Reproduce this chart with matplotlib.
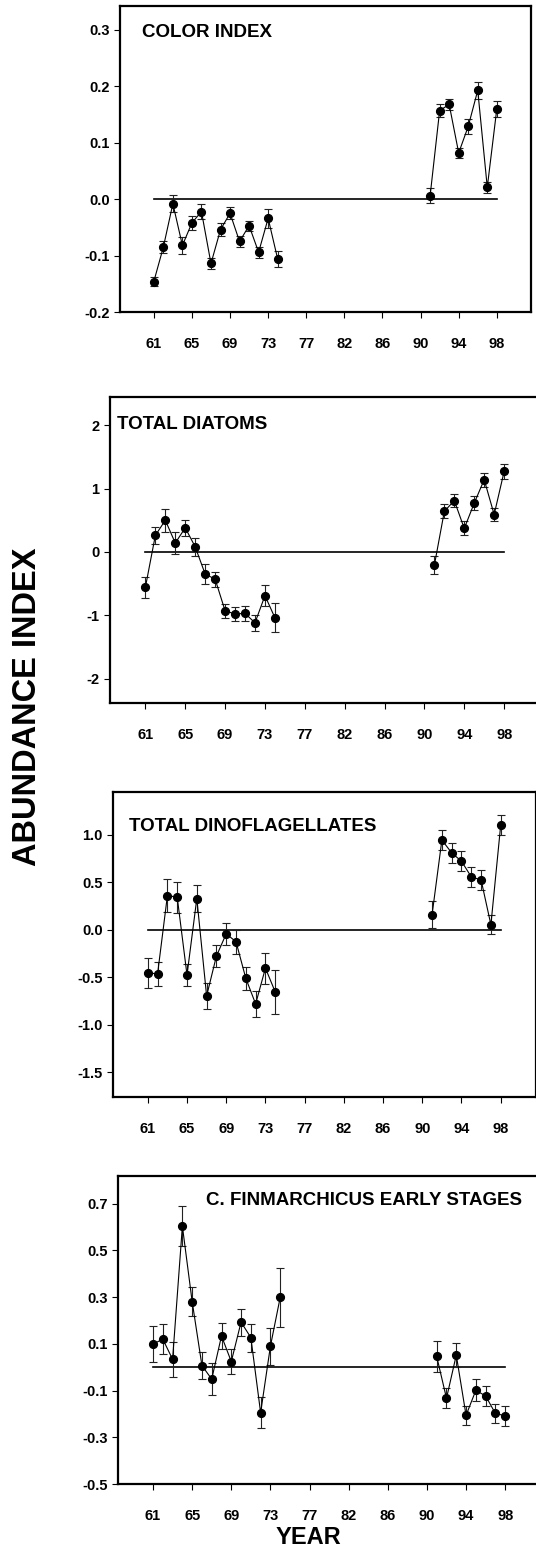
import matplotlib
matplotlib.use("Agg")
import matplotlib.pyplot as plt

plt.rcParams['font.family'] = ['Liberation Sans', 'DejaVu Sans']
plt.rcParams['font.weight'] = 'bold'

# Survey years: early period and recent period
years_early = [61, 62, 63, 64, 65, 66, 67, 68, 69, 70, 71, 72, 73, 74]
years_late = [91, 92, 93, 94, 95, 96, 97, 98]
tick_years = [61, 65, 69, 73, 77, 82, 86, 90, 94, 98]

# Colour index
color_early = [-0.146, -0.085, -0.008, -0.082, -0.042, -0.022, -0.114, -0.054,
               -0.025, -0.075, -0.047, -0.094, -0.034, -0.106]
color_early_err = [0.008, 0.011, 0.015, 0.015, 0.012, 0.014, 0.009, 0.011,
                   0.011, 0.009, 0.009, 0.010, 0.017, 0.015]
color_late = [0.006, 0.157, 0.168, 0.082, 0.129, 0.193, 0.021, 0.160]
color_late_err = [0.013, 0.012, 0.010, 0.009, 0.013, 0.015, 0.010, 0.014]

# Total diatoms
diat_early = [-0.56, 0.26, 0.50, 0.14, 0.38, 0.08, -0.35, -0.43,
              -0.93, -0.98, -0.97, -1.12, -0.69, -1.04]
diat_early_err = [0.16, 0.14, 0.18, 0.17, 0.13, 0.14, 0.16, 0.12,
                  0.11, 0.11, 0.12, 0.13, 0.17, 0.23]
diat_late = [-0.21, 0.64, 0.81, 0.37, 0.77, 1.14, 0.59, 1.27]
diat_late_err = [0.14, 0.11, 0.10, 0.11, 0.11, 0.11, 0.11, 0.12]

# Total dinoflagellates
dino_early = [-0.456, -0.463, 0.361, 0.344, -0.477, 0.330, -0.698, -0.277,
              -0.042, -0.126, -0.512, -0.782, -0.404, -0.656]
dino_early_err = [0.161, 0.125, 0.170, 0.163, 0.112, 0.140, 0.139, 0.112,
                  0.118, 0.126, 0.121, 0.139, 0.163, 0.233]
dino_late = [0.161, 0.947, 0.811, 0.723, 0.558, 0.526, 0.053, 1.105]
dino_late_err = [0.140, 0.105, 0.102, 0.105, 0.103, 0.107, 0.100, 0.109]

# C. finmarchicus early stages
cfin_early = [0.099, 0.120, 0.034, 0.604, 0.281, 0.007, -0.051, 0.134,
              0.024, 0.193, 0.127, -0.195, 0.090, 0.299]
cfin_early_err = [0.077, 0.063, 0.076, 0.085, 0.061, 0.058, 0.070, 0.054,
                  0.053, 0.058, 0.060, 0.067, 0.079, 0.125]
cfin_late = [0.046, -0.133, 0.052, -0.206, -0.099, -0.123, -0.198, -0.208]
cfin_late_err = [0.066, 0.042, 0.050, 0.040, 0.047, 0.043, 0.041, 0.043]


def year_pos(y):
    # compressed year axis: one year dropped between 77 and 82
    return y - 61 - (1 if y > 77 else 0)


W, H = 536, 1547
fig = plt.figure(figsize=(W / 100, H / 100), dpi=100)


def add_axes(left, right, top, bottom):
    return fig.add_axes([left / W, 1 - bottom / H, (right - left) / W, (bottom - top) / H])


panels = [
    dict(box=(120, 531.1, 5.7, 312), ylim=(-0.2, 0.343),
         yticks=[-0.2, -0.1, 0.0, 0.1, 0.2, 0.3],
         ylabels=["-0.2", "-0.1", "0.0", "0.1", "0.2", "0.3"],
         title="COLOR INDEX", tpos=(0.053, 0.911),
         early=(color_early, color_early_err), late=(color_late, color_late_err)),
    dict(box=(110, 540, 396.7, 703.3), ylim=(-2.39, 2.45),
         yticks=[-2, -1, 0, 1, 2],
         ylabels=["-2", "-1", "0", "1", "2"],
         title="TOTAL DIATOMS", tpos=(0.017, 0.908),
         early=(diat_early, diat_early_err), late=(diat_late, diat_late_err)),
    dict(box=(113, 536, 792.3, 1096.7), ylim=(-1.76, 1.45),
         yticks=[-1.5, -1.0, -0.5, 0.0, 0.5, 1.0],
         ylabels=["-1.5", "-1.0", "-0.5", "0.0", "0.5", "1.0"],
         title="TOTAL DINOFLAGELLATES", tpos=(0.037, 0.887),
         early=(dino_early, dino_early_err), late=(dino_late, dino_late_err)),
    dict(box=(118.3, 540.4, 1175.7, 1484), ylim=(-0.5, 0.82),
         yticks=[-0.5, -0.3, -0.1, 0.1, 0.3, 0.5, 0.7],
         ylabels=["-0.5", "-0.3", "-0.1", "0.1", "0.3", "0.5", "0.7"],
         title="C. FINMARCHICUS EARLY STAGES", tpos=(0.208, 0.919),
         early=(cfin_early, cfin_early_err), late=(cfin_late, cfin_late_err)),
]

for p in panels:
    ax = add_axes(*p['box'])
    ax.set_xlim(-3.55, 39.6)
    ax.set_ylim(*p['ylim'])

    x0, x1 = year_pos(years_early[0]), year_pos(years_late[-1])
    ax.plot([x0, x1], [0, 0], color='black', lw=1.2, zorder=2)

    for yrs, (vals, errs) in ((years_early, p['early']), (years_late, p['late'])):
        xs = [year_pos(y) for y in yrs]
        ax.errorbar(xs, vals, yerr=errs, fmt='o', color='black', ms=5.6,
                    ecolor='#222222', elinewidth=0.8, capsize=3, capthick=0.8,
                    lw=0.8, ls='-', zorder=3)

    ax.text(p['tpos'][0], p['tpos'][1], p['title'], transform=ax.transAxes,
            fontsize=13.5, fontweight='bold', ha='left', va='center')

    ax.set_yticks(p['yticks'])
    ax.set_yticklabels(p['ylabels'])
    ax.set_xticks([year_pos(y) for y in tick_years])
    ax.set_xticklabels([str(y) for y in tick_years])
    ax.tick_params(axis='y', direction='out', length=4, width=0.8, pad=3.5,
                   labelsize=10.5)
    ax.tick_params(axis='x', direction='out', length=4, width=0.8, pad=14,
                   labelsize=10.5)
    for lab in ax.get_xticklabels() + ax.get_yticklabels():
        lab.set_fontweight('bold')
    for sp in ax.spines.values():
        sp.set_linewidth(1.6)

fig.text(28 / W, 1 - 707 / H, "ABUNDANCE INDEX", rotation=90, fontsize=23.5,
         fontweight='bold', ha='center', va='center')
fig.text(308 / W, 1 - 1537 / H, "YEAR", fontsize=17, fontweight='bold',
         ha='center', va='center')

fig.savefig("out.png", dpi=100)
